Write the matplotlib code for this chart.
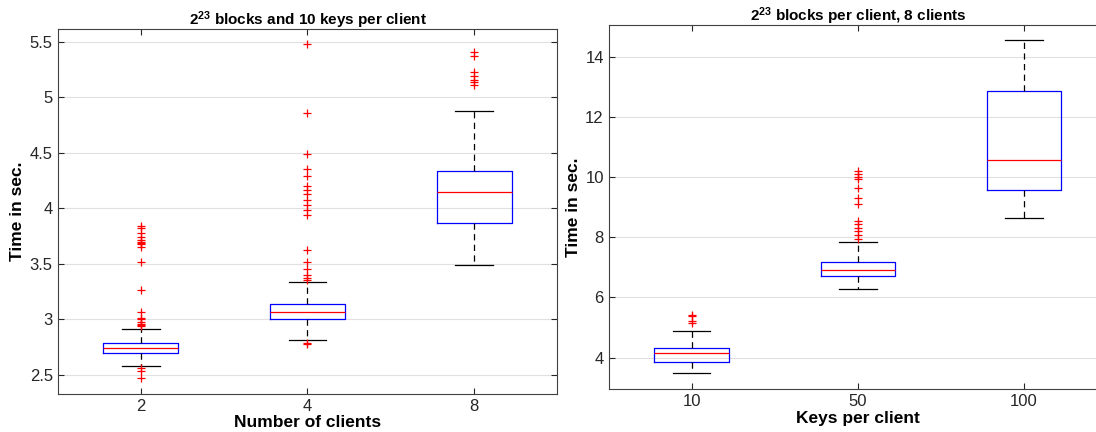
import matplotlib
matplotlib.use("Agg")
import matplotlib.pyplot as plt

plt.rcParams['font.family'] = ['Liberation Sans', 'DejaVu Sans']
plt.rcParams['mathtext.fontset'] = 'custom'
plt.rcParams['mathtext.rm'] = 'Liberation Sans'
plt.rcParams['mathtext.bf'] = 'Liberation Sans:bold'

# Left panel: 2^23 blocks, 10 keys per client, varying clients
clients_labels = ['2', '4', '8']
clients_q1 = [2.696, 3.002, 3.872]
clients_med = [2.741, 3.065, 4.146]
clients_q3 = [2.786, 3.137, 4.338]
clients_lo = [2.581, 2.815, 3.488]
clients_hi = [2.917, 3.341, 4.876]
clients_out = [
    [3.84, 3.82, 3.78, 3.74, 3.72, 3.70, 3.69, 3.68, 3.65, 3.52, 3.27, 3.07,
     3.01, 3.00, 2.98, 2.96, 2.95, 2.94, 2.56, 2.536, 2.476],
    [5.478, 4.863, 4.493, 4.358, 4.291, 4.20, 4.17, 4.13, 4.08, 4.03, 3.99,
     3.94, 3.63, 3.52, 3.455, 3.40, 3.375, 3.36, 2.785, 2.78],
    [5.41, 5.37, 5.23, 5.19, 5.16, 5.14, 5.115],
]

# Right panel: 2^23 blocks per client, 8 clients, varying keys
keys_labels = ['10', '50', '100']
keys_q1 = [3.867, 6.72, 9.57]
keys_med = [4.147, 6.91, 10.57]
keys_q3 = [4.333, 7.18, 12.87]
keys_lo = [3.49, 6.28, 8.65]
keys_hi = [4.89, 7.85, 14.55]
keys_out = [
    [5.42, 5.37, 5.22, 5.15],
    [10.2, 10.1, 10.0, 9.92, 9.62, 9.31, 9.12, 8.53, 8.45, 8.31, 8.2, 8.06, 7.95],
    [],
]


def make_stats(q1, med, q3, lo, hi, out):
    return [dict(q1=a, med=b, q3=c, whislo=d, whishi=e, fliers=f)
            for a, b, c, d, e, f in zip(q1, med, q3, lo, hi, out)]


def draw(ax, stats, labels, title, xlabel, ylim):
    ax.bxp(stats, positions=[1, 2, 3], widths=0.45, showfliers=True,
           boxprops=dict(color='blue', linewidth=0.9),
           medianprops=dict(color='red', linewidth=0.9),
           whiskerprops=dict(color='black', linewidth=0.9, linestyle=(0, (5, 3.5))),
           capprops=dict(color='black', linewidth=0.9),
           flierprops=dict(marker='+', markeredgecolor='red', markersize=5.5,
                           markeredgewidth=0.9, linestyle='none'))
    ax.set_xlim(0.5, 3.5)
    ax.set_ylim(*ylim)
    ax.set_xticks([1, 2, 3])
    ax.set_xticklabels(labels)
    ax.yaxis.grid(True, color='#e0e0e0', linewidth=0.8)
    ax.set_axisbelow(True)
    ax.tick_params(direction='in', top=True, right=True, labelsize=12,
                   colors='#262626', length=4)
    for s in ax.spines.values():
        s.set_color('#404040')
        s.set_linewidth(0.8)
    ax.set_title(title, fontsize=11, fontweight='bold', pad=3)
    ax.set_xlabel(xlabel, fontsize=12.5, fontweight='bold', labelpad=1)
    ax.set_ylabel('Time in sec.', fontsize=12.5, fontweight='bold', labelpad=3)


fig = plt.figure(figsize=(10.96, 4.32), dpi=100)
ax1 = fig.add_axes([0.0526, 0.088, 0.4559, 0.8449])
ax2 = fig.add_axes([0.5554, 0.0988, 0.4547, 0.8440])

draw(ax1, make_stats(clients_q1, clients_med, clients_q3, clients_lo, clients_hi, clients_out),
     clients_labels, r'$\mathbf{2^{23}}$ blocks and 10 keys per client',
     'Number of clients', (2.329, 5.617))
ax1.set_yticks([2.5, 3, 3.5, 4, 4.5, 5, 5.5])
ax1.set_yticklabels(['2.5', '3', '3.5', '4', '4.5', '5', '5.5'])

draw(ax2, make_stats(keys_q1, keys_med, keys_q3, keys_lo, keys_hi, keys_out),
     keys_labels, r'$\mathbf{2^{23}}$ blocks per client, 8 clients',
     'Keys per client', (2.95, 15.06))
ax2.set_yticks([4, 6, 8, 10, 12, 14])

fig.savefig('out.png', dpi=100)
